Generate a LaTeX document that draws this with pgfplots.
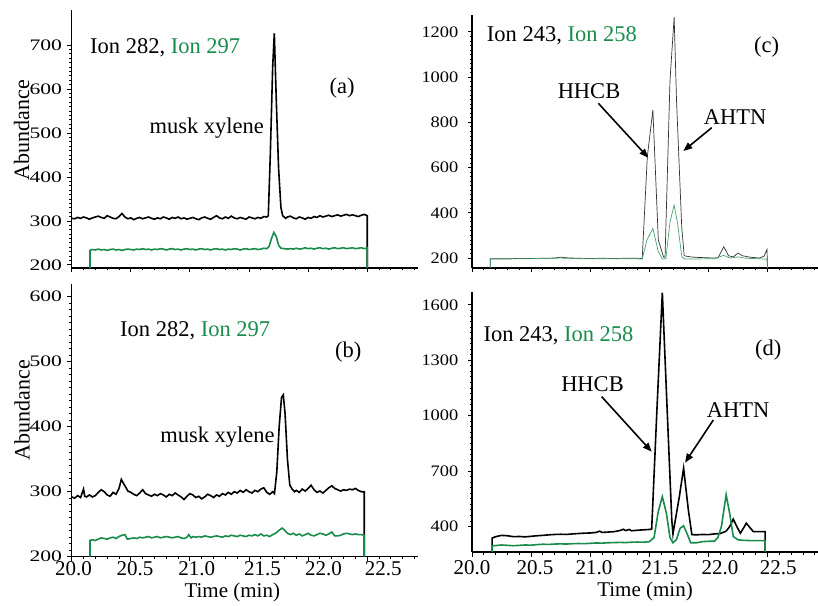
\documentclass[border=0pt]{standalone}
\usepackage{pgfplots}
\pgfplotsset{compat=1.18}
\usepackage{fontspec}
\setmainfont{Liberation Serif}
\usepackage{graphicx}
\usetikzlibrary{arrows.meta}
\definecolor{iongreen}{RGB}{25,140,75}
\newcommand{\ysl}[1]{\scalebox{1.35}[1]{#1}}
\newcommand{\ysr}[1]{\scalebox{1.15}[1]{#1}}
\newcommand{\tf}{\fontsize{22.5}{27}\selectfont}
\pgfplotsset{
  panel/.style={
    scale only axis, width=346pt,
    xmin=20, xmax=22.927,
    axis x line=bottom, axis y line=left,
    axis line style={-, line width=1.3pt},
    tick align=outside,
    xtick={20,20.5,21,21.5,22,22.5},
    minor xtick={20.1,20.2,...,22.95},
    xticklabels={},
    major tick length=4.5pt, minor tick length=2.5pt,
    tick style={black, line width=0.9pt},
    /pgf/number format/assume math mode=true,
    /pgf/number format/1000 sep={},
    yticklabel style={font=\fontsize{16}{18}\selectfont, inner sep=0pt},
    xticklabel style={font=\fontsize{21}{24}\selectfont, inner sep=0pt},
    clip=false,
  },
  ytickleft/.style={yticklabel style={xshift=-5pt}},
  ytickright/.style={yticklabel style={xshift=-9pt}},
  bottomlabels/.style={
    extra x ticks={#1},
    extra x tick labels={20.0,20.5,21.0,21.5,22.0,22.5},
    extra x tick style={major tick length=0pt},
  },
}
\begin{document}
\begin{tikzpicture}
\path[use as bounding box] (0pt,0pt) rectangle (818pt,605pt);
% ---------------- (a)
\begin{axis}[panel, ytickleft, at={(71.7pt,337pt)}, anchor=south west, height=258pt,
  ymin=193, ymax=780, ytick={200,300,400,500,600,700}, minor y tick num=9,
  yticklabel={\ysl{\pgfmathprintnumber{\tick}}}]
\addplot[black, line width=1.6pt] coordinates {
(20.000,306)(20.025,305)(20.050,308)(20.075,306)(20.100,309)(20.125,307)(20.150,304)(20.175,307)
(20.200,309)(20.225,311)(20.250,308)(20.275,306)(20.300,312)(20.325,309)(20.350,306)(20.375,305)
(20.400,310)(20.425,317)(20.450,309)(20.475,305)(20.500,307)(20.525,303)(20.550,306)(20.575,308)
(20.600,305)(20.625,307)(20.650,309)(20.675,306)(20.700,304)(20.725,307)(20.750,305)(20.775,309)
(20.800,307)(20.825,304)(20.850,308)(20.875,306)(20.900,309)(20.925,305)(20.950,307)(20.975,304)
(21.000,306)(21.025,308)(21.050,305)(21.075,303)(21.100,307)(21.125,309)(21.150,306)(21.175,304)
(21.200,308)(21.225,312)(21.250,307)(21.275,305)(21.300,309)(21.325,306)(21.350,311)(21.375,307)
(21.400,305)(21.425,308)(21.450,306)(21.475,304)(21.500,309)(21.525,307)(21.550,305)(21.575,308)
(21.600,306)(21.625,310)(21.650,309)(21.663,312)(21.680,450)(21.700,650)(21.714,727)(21.730,580)
(21.750,420)(21.770,330)(21.785,312)(21.810,306)(21.825,309)(21.850,311)(21.875,307)(21.900,305)
(21.925,309)(21.950,307)(21.975,304)(22.000,308)(22.025,306)(22.050,310)(22.075,308)(22.100,312)
(22.125,309)(22.150,311)(22.175,313)(22.200,310)(22.225,312)(22.250,314)(22.275,311)(22.300,313)
(22.325,315)(22.350,312)(22.375,314)(22.400,312)(22.425,310)(22.450,313)(22.475,315)(22.500,312)
(22.500,193)};
\addplot[iongreen, line width=1.6pt] coordinates {
(20.155,193)(20.155,233)(20.175,235)(20.200,234)(20.225,236)(20.250,234)(20.275,235)(20.300,233)
(20.325,235)(20.350,236)(20.375,234)(20.400,235)(20.425,233)(20.450,235)(20.475,236)(20.500,235)
(20.525,234)(20.550,236)(20.575,235)(20.600,237)(20.625,235)(20.650,236)(20.675,234)(20.700,236)
(20.725,235)(20.750,237)(20.775,236)(20.800,234)(20.825,236)(20.850,237)(20.875,235)(20.900,236)
(20.925,234)(20.950,236)(20.975,237)(21.000,235)(21.025,236)(21.050,234)(21.075,236)(21.100,237)
(21.125,235)(21.150,236)(21.175,234)(21.200,236)(21.225,237)(21.250,235)(21.275,236)(21.300,234)
(21.325,236)(21.350,235)(21.375,237)(21.400,236)(21.425,234)(21.450,236)(21.475,237)(21.500,235)
(21.525,236)(21.550,237)(21.575,235)(21.600,236)(21.625,238)(21.650,237)(21.670,242)(21.690,260)
(21.710,274)(21.730,265)(21.750,245)(21.770,238)(21.800,237)(21.825,236)(21.850,237)(21.875,236)
(21.900,238)(21.925,236)(21.950,237)(21.975,239)(22.000,237)(22.025,238)(22.050,236)(22.075,238)
(22.100,239)(22.125,237)(22.150,238)(22.175,236)(22.200,238)(22.225,239)(22.250,237)(22.275,238)
(22.300,239)(22.325,237)(22.350,238)(22.375,239)(22.400,237)(22.425,238)(22.450,239)(22.475,237)
(22.500,239)(22.500,193)};
\end{axis}
% ---------------- (b)
\begin{axis}[panel, ytickleft, bottomlabels={20.015,20.536,21.058,21.614,22.129,22.636},
  xticklabel style={yshift=-5pt},
  at={(71.7pt,48.3pt)}, anchor=south west, height=273pt,
  ymin=200, ymax=620, ytick={200,300,400,500,600}, minor y tick num=9,
  yticklabel={\ysl{\pgfmathprintnumber{\tick}}}]
\addplot[black, line width=1.6pt] coordinates {
(20.000,292)(20.025,290)(20.050,294)(20.075,291)(20.100,304)(20.110,293)(20.125,292)(20.150,295)
(20.175,292)(20.200,294)(20.225,299)(20.250,303)(20.275,300)(20.300,295)(20.325,293)(20.350,299)
(20.375,296)(20.400,305)(20.420,319)(20.440,312)(20.460,306)(20.475,301)(20.500,299)(20.525,296)
(20.550,294)(20.575,298)(20.600,303)(20.625,297)(20.650,295)(20.675,293)(20.700,296)(20.725,294)
(20.750,297)(20.775,295)(20.800,292)(20.825,296)(20.850,294)(20.875,298)(20.900,295)(20.925,292)
(20.950,288)(20.975,293)(21.000,297)(21.025,295)(21.050,291)(21.075,293)(21.100,289)(21.125,292)
(21.150,296)(21.175,294)(21.200,291)(21.225,295)(21.250,293)(21.275,297)(21.300,295)(21.325,299)
(21.350,296)(21.375,300)(21.400,298)(21.425,302)(21.450,299)(21.475,303)(21.500,300)(21.525,298)
(21.550,302)(21.575,300)(21.600,304)(21.625,306)(21.650,299)(21.675,296)(21.700,300)(21.715,297)
(21.735,330)(21.755,400)(21.775,445)(21.790,449)(21.805,420)(21.825,350)(21.845,310)(21.865,304)
(21.885,300)(21.900,302)(21.925,299)(21.950,304)(21.975,301)(22.000,305)(22.025,310)(22.050,303)
(22.075,299)(22.100,301)(22.125,298)(22.150,302)(22.175,306)(22.200,309)(22.225,305)(22.250,303)
(22.275,301)(22.300,303)(22.325,302)(22.350,304)(22.375,303)(22.400,305)(22.425,302)(22.450,300)
(22.475,300)(22.475,200)};
\addplot[iongreen, line width=1.6pt] coordinates {
(20.155,200)(20.155,225)(20.175,226)(20.200,225)(20.225,227)(20.250,229)(20.275,228)(20.300,227)
(20.325,229)(20.350,230)(20.375,228)(20.400,231)(20.425,233)(20.450,234)(20.470,227)(20.500,228)
(20.525,229)(20.550,228)(20.575,230)(20.600,229)(20.625,230)(20.650,231)(20.675,229)(20.700,230)
(20.725,231)(20.750,229)(20.775,230)(20.800,231)(20.825,230)(20.850,229)(20.875,230)(20.900,231)
(20.925,229)(20.950,228)(20.975,230)(20.990,234)(21.010,229)(21.025,231)(21.050,230)(21.075,231)
(21.100,230)(21.125,232)(21.150,231)(21.175,230)(21.200,231)(21.225,232)(21.250,231)(21.275,230)
(21.300,232)(21.325,231)(21.350,233)(21.375,232)(21.400,231)(21.425,233)(21.450,232)(21.475,231)
(21.500,233)(21.525,232)(21.550,234)(21.575,232)(21.600,235)(21.625,232)(21.650,233)(21.675,231)
(21.700,234)(21.725,236)(21.750,240)(21.780,244)(21.800,241)(21.825,236)(21.850,234)(21.875,236)
(21.900,233)(21.925,235)(21.950,232)(21.975,234)(22.000,236)(22.025,233)(22.050,232)(22.075,234)
(22.100,236)(22.125,235)(22.150,233)(22.175,235)(22.200,238)(22.225,232)(22.250,232)(22.275,233)
(22.300,235)(22.325,236)(22.350,235)(22.375,234)(22.400,235)(22.425,234)(22.450,234)(22.475,233)
(22.475,200)};
\end{axis}
% ---------------- (c)
\begin{axis}[panel, ytickright, at={(472pt,337pt)}, anchor=south west, height=253pt,
  ymin=156, ymax=1275, ytick={200,400,600,800,1000,1200}, minor y tick num=9,
  yticklabel={\ysr{\pgfmathprintnumber{\tick}}}]
\addplot[black!80, line width=0.7pt] coordinates {
(20.155,156)(20.155,197)(20.200,197)(20.300,197)(20.400,198)(20.500,198)(20.600,199)(20.700,200)
(20.750,204)(20.800,201)(20.900,199)(21.000,198)(21.100,199)(21.200,198)(21.300,199)(21.400,199)
(21.440,198)(21.483,648)(21.530,855)(21.576,280)(21.620,205)(21.633,205)(21.675,987)(21.710,1265)
(21.730,898)(21.774,338)(21.795,210)(21.850,205)(21.900,203)(22.000,201)(22.080,200)(22.130,250)
(22.170,210)(22.210,205)(22.250,222)(22.290,210)(22.350,204)(22.430,200)(22.470,208)(22.495,238)
(22.500,156)};
\addplot[iongreen!80, line width=0.7pt] coordinates {
(20.155,156)(20.155,196)(20.300,196)(20.450,197)(20.600,198)(20.750,200)(20.900,197)(21.100,197)
(21.300,197)(21.440,196)(21.480,280)(21.530,331)(21.575,230)(21.610,196)(21.640,197)(21.675,360)
(21.710,434)(21.740,350)(21.775,205)(21.800,196)(21.900,196)(22.050,197)(22.130,212)(22.180,200)
(22.250,205)(22.320,199)(22.420,197)(22.495,195)(22.500,156)};
\end{axis}
% ---------------- (d)
\begin{axis}[panel, ytickright, bottomlabels={20.0,20.533,21.032,21.59,22.098,22.591},
  xticklabel style={yshift=-8pt},
  at={(472pt,53pt)}, anchor=south west, height=260pt,
  ymin=262, ymax=1670, ytick={400,700,1000,1300,1600}, minor y tick num=9,
  yticklabel={\ysr{\pgfmathprintnumber{\tick}}}]
\addplot[black, line width=1.6pt] coordinates {
(20.170,262)(20.170,337)(20.200,345)(20.250,352)(20.300,350)(20.350,345)(20.400,346)(20.450,344)
(20.500,347)(20.550,350)(20.600,352)(20.650,355)(20.700,357)(20.750,358)(20.800,357)(20.850,360)
(20.900,362)(20.950,364)(21.000,365)(21.050,368)(21.080,375)(21.100,368)(21.150,370)(21.200,372)
(21.250,378)(21.280,385)(21.300,378)(21.330,384)(21.350,377)(21.400,380)(21.450,382)(21.500,384)
(21.520,386)(21.563,1014)(21.610,1667)(21.652,1014)(21.690,436)(21.700,360)(21.754,562)(21.790,716)
(21.830,490)(21.860,356)(21.900,355)(21.950,357)(22.000,356)(22.050,360)(22.100,362)(22.150,375)
(22.180,400)(22.210,440)(22.240,400)(22.270,364)(22.300,395)(22.320,418)(22.350,395)(22.380,372)
(22.420,372)(22.480,372)(22.480,262)};
\addplot[iongreen, line width=1.6pt] coordinates {
(20.170,262)(20.170,295)(20.250,300)(20.300,298)(20.350,296)(20.400,298)(20.450,300)(20.500,299)
(20.550,302)(20.600,304)(20.650,303)(20.700,305)(20.750,306)(20.800,305)(20.850,307)(20.900,308)
(20.950,307)(21.000,309)(21.050,311)(21.100,310)(21.150,312)(21.200,313)(21.250,314)(21.300,313)
(21.350,315)(21.400,316)(21.450,315)(21.500,318)(21.540,340)(21.575,480)(21.610,562)(21.645,470)
(21.675,340)(21.700,312)(21.730,330)(21.760,390)(21.790,404)(21.820,360)(21.850,312)(21.900,312)
(21.950,318)(22.000,320)(22.050,320)(22.080,340)(22.110,400)(22.150,572)(22.180,470)(22.210,346)
(22.250,328)(22.300,325)(22.350,324)(22.400,324)(22.480,324)(22.480,262)};
\end{axis}
% ---------------- annotations (pixel coordinates, y downward)
\begin{scope}[x=1pt, y=-1pt, shift={(0pt,605pt)}]
\node[font=\tf, anchor=base west, inner sep=0pt] at (90,53.3) {Ion 282, \textcolor{iongreen}{Ion 297}};
\node[font=\tf, anchor=base west, inner sep=0pt] at (120,336.7) {Ion 282, \textcolor{iongreen}{Ion 297}};
\node[font=\tf, anchor=base west, inner sep=0pt] at (486.7,41.7) {Ion 243, \textcolor{iongreen}{Ion 258}};
\node[font=\tf, anchor=base west, inner sep=0pt] at (483.3,341.7) {Ion 243, \textcolor{iongreen}{Ion 258}};
\node[font=\tf, inner sep=0pt] at (342,88) {(a)};
\node[font=\tf, inner sep=0pt] at (348.3,351.7) {(b)};
\node[font=\tf, inner sep=0pt] at (766.7,47) {(c)};
\node[font=\tf, inner sep=0pt] at (768.3,350) {(d)};
\node[font=\tf, inner sep=0pt] at (206.7,128) {musk xylene};
\node[font=\tf, inner sep=0pt] at (217.5,436.7) {musk xylene};
\node[font=\tf, inner sep=0pt] at (589,90.7) {HHCB};
\node[font=\tf, inner sep=0pt] at (735,117.5) {AHTN};
\node[font=\tf, inner sep=0pt] at (592.5,384) {HHCB};
\node[font=\tf, inner sep=0pt] at (738,410) {AHTN};
\draw[line width=1.6pt, -{Triangle[length=9pt,width=7pt]}] (598.3,103.3) -- (648.3,157.7);
\draw[line width=1.6pt, -{Triangle[length=9pt,width=7pt]}] (711.7,127.7) -- (683.3,151);
\draw[line width=1.6pt, -{Triangle[length=9pt,width=7pt]}] (601.7,396.7) -- (651.7,451.7);
\draw[line width=1.6pt, -{Triangle[length=9pt,width=7pt]}] (713.3,420) -- (685,462.7);
\node[font=\fontsize{22}{26}\selectfont, rotate=90, inner sep=0pt] at (21.7,130) {Abundance};
\node[font=\fontsize{22}{26}\selectfont, rotate=90, inner sep=0pt] at (22,410) {Abundance};
\node[font=\fontsize{21}{25}\selectfont, inner sep=0pt] at (232.3,592) {Time (min)};
\node[font=\fontsize{21}{25}\selectfont, inner sep=0pt] at (645,591.5) {Time (min)};
\end{scope}
\end{tikzpicture}
\end{document}
